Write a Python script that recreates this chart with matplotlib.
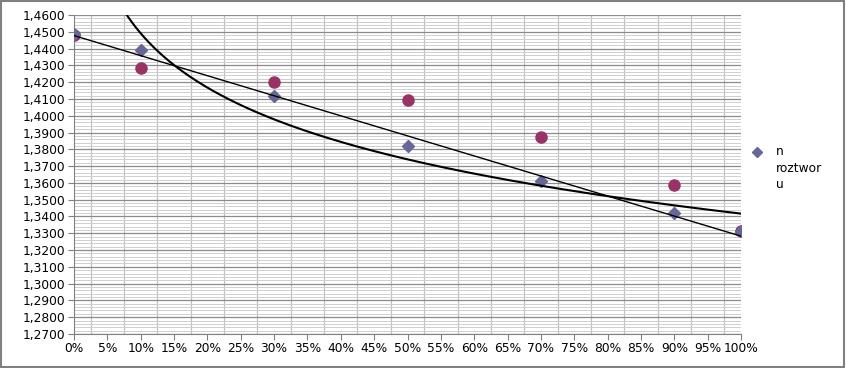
import matplotlib
matplotlib.use("Agg")
import matplotlib.pyplot as plt
import matplotlib.ticker as mticker
from matplotlib.patches import Rectangle
from matplotlib.lines import Line2D
import numpy as np

# stezenie (fraction) and refractive index readings
x_vals = [0.0, 0.1, 0.3, 0.5, 0.7, 0.9, 1.0]
n_roztworu = [1.4485, 1.4392, 1.4116, 1.3822, 1.3612, 1.3420, 1.3314]
n_drugi = [1.4482, 1.4283, 1.4202, 1.4095, 1.3876, 1.3589, 1.3313]
legend_label = "n\nroztwor\nu"

x = np.array(x_vals)
y = np.array(n_roztworu)

# Excel-like trendlines fitted to the diamond series
lin = np.polyfit(x, y, 1)
pos = x > 0
logfit = np.polyfit(np.log(x[pos]), y[pos], 1)

fig = plt.figure(figsize=(8.46, 3.68), dpi=100)
ax = fig.add_axes([74 / 846, 1 - 334 / 368, (741 - 74) / 846, (334 - 15) / 368])

ax.plot(x, n_drugi, "o", color="#993366", markersize=8, zorder=3)
ax.plot(x, n_roztworu, "D", color="#666699", markersize=6, zorder=4)

xl = np.linspace(0, 1, 50)
ax.plot(xl, np.polyval(lin, xl), color="black", lw=1.0, zorder=5)
xc = np.linspace(0.005, 1, 500)
ax.plot(xc, np.polyval(logfit, np.log(xc)), color="black", lw=1.5, zorder=5)

ax.set_xlim(0, 1)
ax.set_ylim(1.27, 1.46)

ax.xaxis.set_major_locator(mticker.MultipleLocator(0.05))
ax.xaxis.set_minor_locator(mticker.FixedLocator(np.arange(0.025, 1, 0.05)))
ax.yaxis.set_major_locator(mticker.MultipleLocator(0.01))
ax.yaxis.set_minor_locator(mticker.MultipleLocator(0.002))
ax.xaxis.set_major_formatter(mticker.FuncFormatter(lambda v, p: "%d%%" % round(v * 100)))
ax.yaxis.set_major_formatter(mticker.FuncFormatter(lambda v, p: ("%.4f" % v).replace(".", ",")))

ax.grid(which="major", axis="y", color="#8c8c8c", lw=0.9)
ax.grid(which="minor", axis="y", color="#cfcfcf", lw=0.7)
ax.grid(which="minor", axis="x", color="#c0c0c0", lw=0.9)
ax.set_axisbelow(True)

ax.tick_params(which="major", direction="out", length=4, color="#808080", labelsize=8.8, pad=2)
ax.tick_params(which="minor", length=0)
for side in ["top", "right"]:
    ax.spines[side].set_visible(False)
for side in ["left", "bottom"]:
    ax.spines[side].set_color("#808080")

# legend key: marker beside the first line of the wrapped label
fig.lines.append(Line2D([757 / 846], [1 - 152 / 368], marker="D", color="#666699",
                        markersize=5, linestyle="none", transform=fig.transFigure))
fig.text(776 / 846, 1 - 145 / 368, legend_label, fontsize=8.8, va="top",
         ha="left", linespacing=1.35, transform=fig.transFigure)

fig.patches.append(Rectangle((0.001, 0.002), 0.997, 0.995, transform=fig.transFigure,
                             fill=False, edgecolor="#808080", lw=1.5))

fig.savefig("out.png", dpi=100)
